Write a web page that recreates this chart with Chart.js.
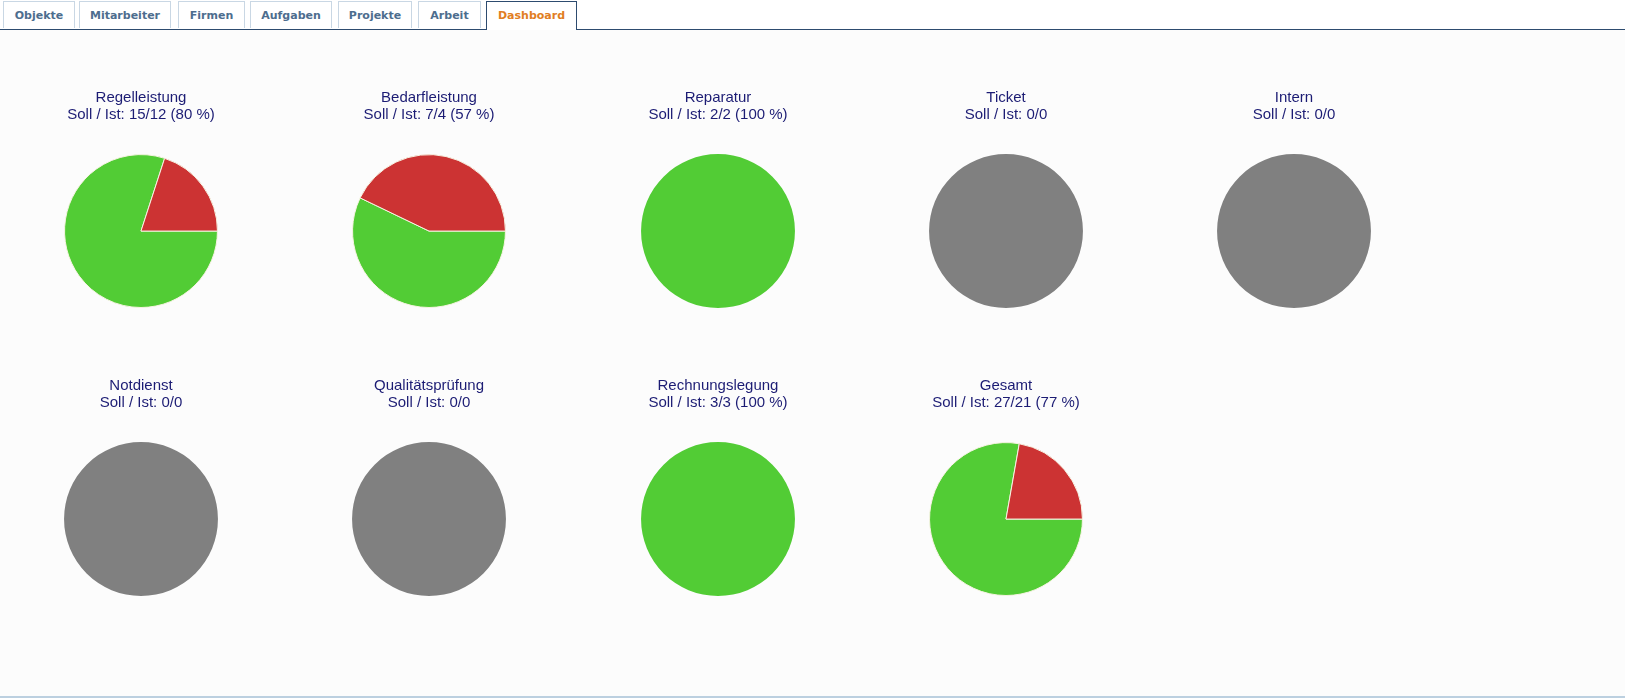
<!DOCTYPE html>
<html>
<head>
<meta charset="utf-8">
<script src="https://cdn.jsdelivr.net/npm/chart.js@4.4.1/dist/chart.umd.min.js"></script>
<style>
    html, body { margin: 0; padding: 0; background: #ffffff; }
    body { width: 1625px; height: 699px; position: relative; overflow: hidden; }
    .tabbar { position: absolute; left: 0; top: 0; width: 1625px; height: 29px; border-bottom: 1px solid #2d4b6f; }
    .tab {
        position: absolute; top: 1px; height: 27px; box-sizing: border-box;
        border: 1px solid #c9d7e4; border-bottom: none; background: #ffffff;
        font: bold 11px "DejaVu Sans", Verdana, sans-serif; color: #4d6d8e;
        text-align: center; line-height: 27px;
    }
    .tab.active { border-color: #2d4b6f; color: #e17d22; height: 29px; }
    .page { position: absolute; left: 0; top: 30px; width: 1625px; height: 666px; background: #fcfcfc; border-bottom: 2px solid #bcd0e0; }
    .pie { position: absolute; }
</style>
</head>
<body>
<div class="tabbar" id="tabbar"></div>
<div class="page"></div>
<div id="charts"></div>
<script>
// Tabs
const tabLabels = ['Objekte', 'Mitarbeiter', 'Firmen', 'Aufgaben', 'Projekte', 'Arbeit', 'Dashboard'];
const activeTab = 'Dashboard';

// Chart data
const categories = ['Regelleistung', 'Bedarfleistung', 'Reparatur', 'Ticket', 'Intern',
                    'Notdienst', 'Qualitätsprüfung', 'Rechnungslegung', 'Gesamt'];
const soll = [15, 7, 2, 0, 0, 0, 0, 3, 27];
const ist  = [12, 4, 2, 0, 0, 0, 0, 3, 21];

const GREEN = '#52cc35';
const RED = '#cc3333';
const GREY = '#808080';

// tab geometry
const tabX = [3, 79, 178, 250, 338, 418, 486];
const tabW = [72, 92, 67, 82, 74, 63, 91];
const tabbar = document.getElementById('tabbar');
tabLabels.forEach((label, i) => {
    const t = document.createElement('div');
    t.className = 'tab' + (label === activeTab ? ' active' : '');
    t.style.left = tabX[i] + 'px';
    t.style.width = tabW[i] + 'px';
    t.textContent = label;
    tabbar.appendChild(t);
});

const holder = document.getElementById('charts');
const perRow = 5;

categories.forEach((name, i) => {
    const col = i % perRow;
    const row = Math.floor(i / perRow);
    const cx = 141 + col * 288.25;
    const top = 87 + row * 288;

    const canvas = document.createElement('canvas');
    canvas.className = 'pie';
    canvas.width = 288;
    canvas.height = 221;
    canvas.style.left = Math.round(cx - 144) + 'px';
    canvas.style.top = top + 'px';
    holder.appendChild(canvas);

    let values, colors;
    let subtitle;
    if (soll[i] === 0) {
        values = [1];
        colors = [GREY];
        subtitle = `Soll / Ist: ${soll[i]}/${ist[i]}`;
    } else {
        values = [ist[i], soll[i] - ist[i]];
        colors = [GREEN, RED];
        subtitle = `Soll / Ist: ${soll[i]}/${ist[i]} (${Math.floor(ist[i] / soll[i] * 100)} %)`;
    }
    const nonZero = values.filter(v => v > 0).length;

    new Chart(canvas.getContext('2d'), {
        type: 'pie',
        data: {
            labels: values.length === 1 ? ['-'] : ['Ist', 'Offen'],
            datasets: [{
                data: values,
                backgroundColor: colors,
                borderColor: '#f6f3e2',
                borderWidth: nonZero > 1 ? 1 : 0
            }]
        },
        options: {
            responsive: false,
            animation: false,
            devicePixelRatio: 1,
            rotation: 90,
            layout: { padding: 0 },
            plugins: {
                legend: { display: false },
                tooltip: { enabled: false },
                title: {
                    display: true,
                    text: [name, subtitle],
                    color: '#1c1c74',
                    font: { family: '"Liberation Sans", Arial, sans-serif', size: 15, weight: 'normal', lineHeight: 1.17 },
                    padding: { top: 2, bottom: 30 }
                }
            }
        }
    });
});
</script>
</body>
</html>
